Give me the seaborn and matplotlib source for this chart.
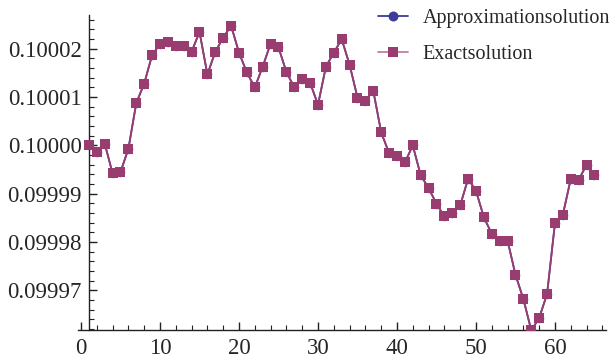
import numpy as np
import pandas as pd
import matplotlib
matplotlib.use("Agg")
import matplotlib.pyplot as plt
from matplotlib.lines import Line2D
from matplotlib.ticker import MultipleLocator, FuncFormatter, FixedLocator
import seaborn as sns

# ---- data ----
n_index = list(range(1, 66))
exact_solution = [
    0.1000000, 0.0999986, 0.1000004, 0.0999942, 0.0999945, 0.0999993, 0.1000088, 0.1000128,
    0.1000187, 0.1000210, 0.1000215, 0.1000206, 0.1000206, 0.1000194, 0.1000235, 0.1000147,
    0.1000194, 0.1000223, 0.1000248, 0.1000192, 0.1000151, 0.1000120, 0.1000163, 0.1000211,
    0.1000203, 0.1000152, 0.1000120, 0.1000138, 0.1000130, 0.1000084, 0.1000163, 0.1000192,
    0.1000220, 0.1000167, 0.1000099, 0.1000093, 0.1000113, 0.1000027, 0.0999984, 0.0999978,
    0.0999965, 0.1000000, 0.0999938, 0.0999912, 0.0999879, 0.0999853, 0.0999860, 0.0999876,
    0.0999931, 0.0999906, 0.0999851, 0.0999817, 0.0999803, 0.0999803, 0.0999732, 0.0999682,
    0.0999617, 0.0999643, 0.0999693, 0.0999840, 0.0999857, 0.0999931, 0.0999929, 0.0999960,
    0.0999938,
]
approx_solution = [
    0.1000000, 0.0999986, 0.1000004, 0.0999942, 0.0999945, 0.0999993, 0.1000088, 0.1000128,
    0.1000187, 0.1000210, 0.1000215, 0.1000206, 0.1000206, 0.1000194, 0.1000235, 0.1000147,
    0.1000194, 0.1000223, 0.1000248, 0.1000192, 0.1000151, 0.1000120, 0.1000163, 0.1000211,
    0.1000203, 0.1000152, 0.1000120, 0.1000138, 0.1000130, 0.1000084, 0.1000163, 0.1000192,
    0.1000220, 0.1000167, 0.1000099, 0.1000093, 0.1000113, 0.1000027, 0.0999984, 0.0999978,
    0.0999965, 0.1000000, 0.0999938, 0.0999912, 0.0999879, 0.0999853, 0.0999860, 0.0999876,
    0.0999931, 0.0999906, 0.0999851, 0.0999817, 0.0999803, 0.0999803, 0.0999732, 0.0999682,
    0.0999617, 0.0999643, 0.0999693, 0.0999840, 0.0999857, 0.0999931, 0.0999929, 0.0999960,
    0.0999938,
]
series_labels = ["Approximationsolution", "Exactsolution"]
x_ticks = [0, 10, 20, 30, 40, 50, 60]
y_ticks = [0.09997, 0.09998, 0.09999, 0.10000, 0.10001, 0.10002]

# ---- style ----
sns.set_style("ticks")
plt.rcParams["font.family"] = ["Liberation Serif", "DejaVu Serif"]

W, H = 612, 359
fig = plt.figure(figsize=(W / 100, H / 100), dpi=100)

# axes rectangle in pixels
xlim = (-0.4, 66.5)
px_per_x = 7.9
x0_px = 81
left_px = x0_px + px_per_x * xlim[0]
right_px = x0_px + px_per_x * xlim[1]
top_px, bottom_px = 15, 330
ax = fig.add_axes([left_px / W, 1 - bottom_px / H, (right_px - left_px) / W, (bottom_px - top_px) / H])

blue = "#3D3D99"
purple = "#993D71"

df = pd.DataFrame({"n": n_index, "approx": approx_solution, "exact": exact_solution})
sns.lineplot(data=df, x="n", y="approx", ax=ax, color=blue, marker="o", markersize=6.8,
             markeredgewidth=0, linewidth=1.3, zorder=2)
sns.lineplot(data=df, x="n", y="exact", ax=ax, color=purple, marker="s", markersize=6.6,
             markeredgewidth=0, linewidth=1.3, zorder=3)

ax.set_xlim(*xlim)
ax.set_ylim(0.0999618, 0.1000270)
ax.set_xlabel("")
ax.set_ylabel("")

ax.spines["top"].set_visible(False)
ax.spines["right"].set_visible(False)
ax.spines["left"].set_position(("data", 1))
for s in ("left", "bottom"):
    ax.spines[s].set_linewidth(1.0)
    ax.spines[s].set_color("#222222")

ax.xaxis.set_major_locator(FixedLocator(x_ticks))
ax.xaxis.set_minor_locator(MultipleLocator(2))
ax.yaxis.set_major_locator(FixedLocator(y_ticks))
ax.yaxis.set_minor_locator(MultipleLocator(0.000002))
ax.yaxis.set_major_formatter(FuncFormatter(lambda v, p: f"{v:.5f}"))
ax.xaxis.set_major_formatter(FuncFormatter(lambda v, p: f"{int(round(v))}"))

ax.tick_params(axis="both", which="both", direction="in", color="#222222", labelsize=16.5)
ax.tick_params(axis="both", which="major", length=6, width=1.0)
ax.tick_params(axis="both", which="minor", length=3.5, width=0.8)
ax.tick_params(axis="y", which="major", pad=5)
ax.tick_params(axis="x", which="major", pad=5.5)

handles = [
    Line2D([], [], color=blue, marker="o", markersize=7.2, markeredgewidth=0, linewidth=1.3),
    Line2D([], [], color="#C27FA5", marker="s", markersize=6.6, markeredgewidth=0, linewidth=1.3,
           markerfacecolor=purple),
]
fig.legend(handles, series_labels, loc="upper left",
           bbox_to_anchor=(378 / W, 1 - 9 / H), frameon=False, fontsize=14.5,
           handlelength=1.5, handletextpad=0.7, labelspacing=0.85,
           borderpad=0, borderaxespad=0)

fig.savefig("out.png", dpi=100)
